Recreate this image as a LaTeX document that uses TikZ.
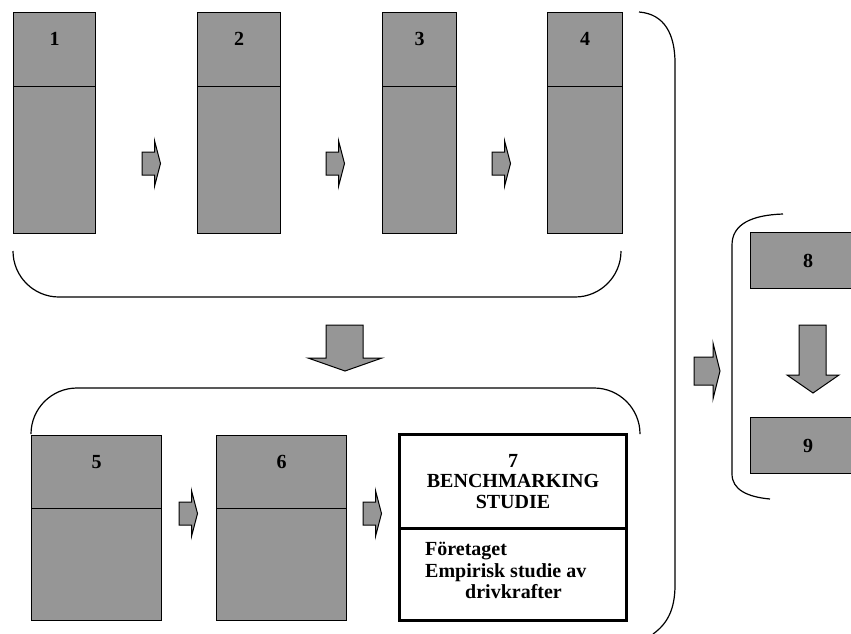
\documentclass[tikz,border=0pt]{standalone}
\usepackage{fontspec}
\setmainfont{Liberation Serif}
\usetikzlibrary{positioning}
\definecolor{boxgray}{RGB}{150,150,150}

\tikzset{
  cell/.style={draw, fill=boxgray, line width=1pt, inner sep=0pt, anchor=north west},
  num/.style={font=\bfseries\fontsize{20}{21}\selectfont, inner sep=0pt},
  thickcell/.style={draw, fill=white, line width=3pt, inner sep=0pt, anchor=north west},
  fatarrow/.style={draw, fill=boxgray, line width=1pt, line join=miter},
  bracket/.style={draw, line width=1.2pt}
}

% small arrow pointing right, drawn from its tail centre
\newcommand{\smallright}[1]{%
  \path[fatarrow] (#1) ++(0,-11.5) -- ++(12.5,0) -- ++(0,-11.5) -- ++(6,23)
     -- ++(-6,23) -- ++(0,-11.5) -- ++(-12.5,0) -- cycle;}

\begin{document}
\begin{tikzpicture}[x=1pt,y=-1pt]
   \fill[white] (0,0) rectangle (851,633);
   \useasboundingbox (0,0) rectangle (851,633);

   % upper row of boxes
   \foreach \n/\x/\w in {1/13/82, 2/197/83, 3/382/74, 4/547/75} {
     \node[cell, minimum width=\w pt, minimum height=74pt] (top\n) at (\x,12) {};
     \node[cell, minimum width=\w pt, minimum height=147pt] (bot\n) at (\x,86) {};
     \node[num, below=20pt of top\n.north] (lab\n) {\n};
   }
   \coordinate (a12) at (142,163.5);
   \coordinate (a23) at (326,163.5);
   \coordinate (a34) at (492,163.5);
   \smallright{a12}
   \smallright{a23}
   \smallright{a34}

   % bracket under the upper row
   \draw[bracket, rounded corners=46pt] (13,251) -- (13,297) -- (621,297) -- (621,251);

   % down arrow to the lower row
   \path[fatarrow] (326,325) -- (363,325) -- (363,358) -- (382,358) -- (345,371)
      -- (308,358) -- (326,358) -- cycle;

   % bracket over the lower row
   \draw[bracket, rounded corners=46pt] (31,433) -- (31,388) -- (640,388) -- (640,433);

   % lower row of boxes
   \foreach \n/\x in {5/31, 6/216} {
     \node[cell, minimum width=130pt, minimum height=73pt] (top\n) at (\x,435) {};
     \node[cell, minimum width=130pt, minimum height=112pt] (bot\n) at (\x,508) {};
     \node[num, below=20pt of top\n.north] (lab\n) {\n};
   }
   \coordinate (a56) at (179,513.5);
   \coordinate (a67) at (363,513.5);
   \smallright{a56}
   \smallright{a67}

   % the benchmarking box
   \node[thickcell, minimum width=227pt, minimum height=94pt] (top7) at (398,433) {};
   \node[thickcell, minimum width=227pt, minimum height=92pt] (bot7) at (398,527) {};
   \node[num, align=center, font=\bfseries\fontsize{20}{20.5}\selectfont] (lab7) at (top7.center)
      {7\\BENCHMARKING\\STUDIE};
   \node[num, align=left, anchor=north west, font=\bfseries\fontsize{20}{21.5}\selectfont] (txt7)
      at (425,542) {Företaget\\Empirisk studie av\\\hspace*{40pt}drivkrafter};

   % large brace round both rows
   \draw[bracket] (639,12) .. controls (665,14) and (675,35) .. (675,63) -- (675,585)
      .. controls (675,610) and (667,624) .. (653,634);

   % arrow to the right group
   \path[fatarrow] (694,357) -- (713,357) -- (713,343) -- (720,371) -- (713,399)
      -- (713,385) -- (694,385) -- cycle;

   % right group
   \draw[bracket] (783,214) .. controls (752,215) and (732,224) .. (732,245) -- (732,474)
      .. controls (732,490) and (748,497) .. (770,499);
   \node[cell, minimum width=115pt, minimum height=56pt] (box8) at (750,232) {};
   \node[num] (lab8) at (box8.center) {8};
   \node[cell, minimum width=115pt, minimum height=56pt] (box9) at (750,417) {};
   \node[num] (lab9) at (box9.center) {9};
   \path[fatarrow] (799,325) -- (826,325) -- (826,375) -- (839,375) -- (813,393)
      -- (787,375) -- (799,375) -- cycle;
\end{tikzpicture}
\end{document}
